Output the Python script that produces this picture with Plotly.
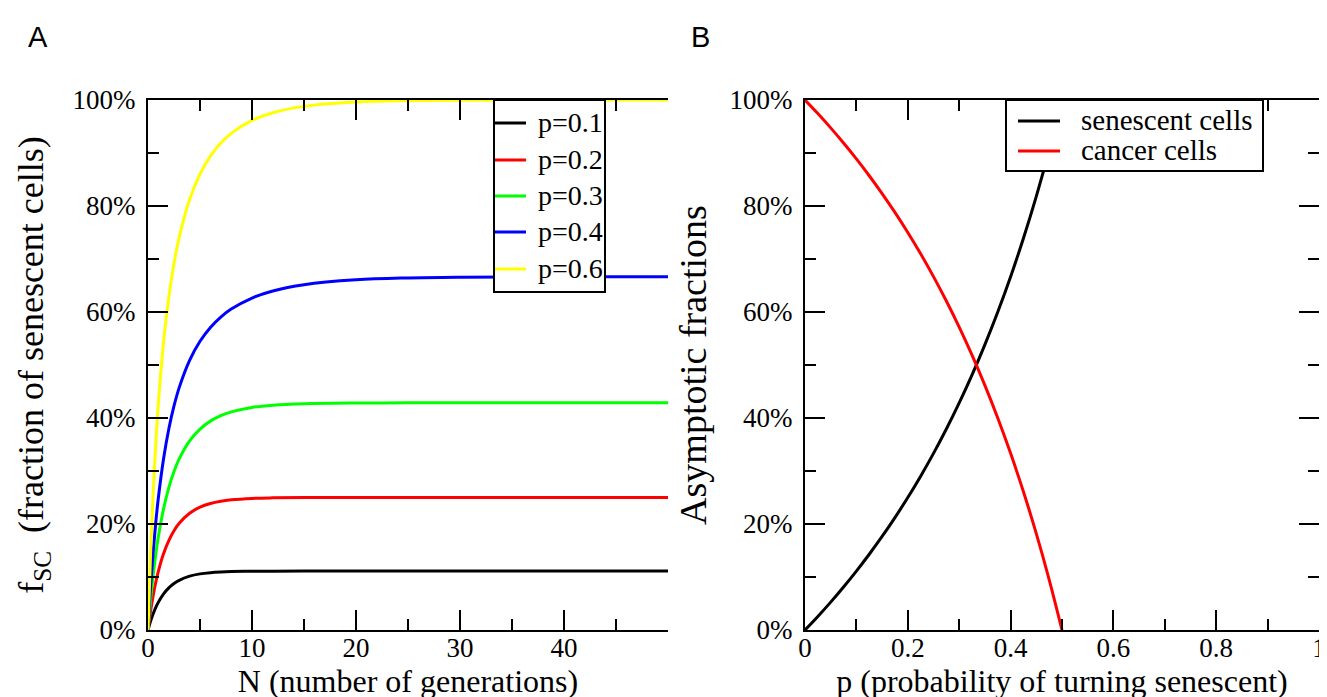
import plotly.graph_objects as go

# ---------------- Panel A data ----------------
N = [0, 0.25, 0.5, 0.75, 1, 1.5, 2, 2.5, 3, 4, 5, 6, 7, 8, 10, 12, 15, 20, 25, 30, 40, 50]
f_p01 = [0, 0.0168, 0.0308, 0.0427, 0.0526, 0.0682, 0.0796, 0.0878, 0.0938, 0.1016, 0.1059, 0.1082,
         0.1095, 0.1102, 0.1108, 0.1110, 0.1111, 0.1111, 0.1111, 0.1111, 0.1111, 0.1111]
f_p02 = [0, 0.0357, 0.0652, 0.0901, 0.1111, 0.1443, 0.1688, 0.1873, 0.2013, 0.2203, 0.2317, 0.2387,
         0.2430, 0.2456, 0.2483, 0.2493, 0.2498, 0.2500, 0.2500, 0.2500, 0.2500, 0.2500]
f_p03 = [0, 0.0571, 0.1040, 0.1433, 0.1765, 0.2291, 0.2687, 0.2990, 0.3228, 0.3568, 0.3791, 0.3941,
         0.4044, 0.4115, 0.4200, 0.4242, 0.4270, 0.4283, 0.4286, 0.4286, 0.4286, 0.4286]
f_p04 = [0, 0.0819, 0.1484, 0.2036, 0.2500, 0.3237, 0.3793, 0.4227, 0.4573, 0.5087, 0.5447, 0.5709,
         0.5905, 0.6055, 0.6264, 0.6397, 0.6516, 0.6608, 0.6643, 0.6657, 0.6665, 0.6667]
f_p06 = [0, 0.1469, 0.2616, 0.3533, 0.4286, 0.5439, 0.6279, 0.6914, 0.7409, 0.8122, 0.8602, 0.8941,
         0.9187, 0.9370, 0.9614, 0.9760, 0.9880, 0.9961, 0.9987, 0.9996, 1.0, 1.0]
labels_A = ["p=0.1", "p=0.2", "p=0.3", "p=0.4", "p=0.6"]
colors_A = ["#000000", "#ff0000", "#00ff00", "#0000ff", "#ffff00"]
values_A = [f_p01, f_p02, f_p03, f_p04, f_p06]

# ---------------- Panel B data ----------------
p_vals = [0, 0.025, 0.05, 0.075, 0.1, 0.125, 0.15, 0.175, 0.2, 0.225, 0.25, 0.275, 0.3, 0.325,
          0.35, 0.375, 0.4, 0.425, 0.45, 0.475, 0.5]
senescent = [0, 0.0256, 0.0526, 0.0811, 0.1111, 0.1429, 0.1765, 0.2121, 0.25, 0.2903, 0.3333, 0.3793,
             0.4286, 0.4815, 0.5385, 0.6, 0.6667, 0.7391, 0.8182, 0.9048, 1.0]
cancer = [1, 0.9744, 0.9474, 0.9189, 0.8889, 0.8571, 0.8235, 0.7879, 0.75, 0.7097, 0.6667, 0.6207,
          0.5714, 0.5185, 0.4615, 0.4, 0.3333, 0.2609, 0.1818, 0.0952, 0.0]
labels_B = ["senescent cells", "cancer cells"]
colors_B = ["#000000", "#ff0000"]
values_B = [senescent, cancer]

yticks = [0, 0.2, 0.4, 0.6, 0.8, 1.0]
yticktext = ["0%", "20%", "40%", "60%", "80%", "100%"]
xticksA = [0, 10, 20, 30, 40]
xticksB = [0, 0.2, 0.4, 0.6, 0.8, 1.0]
xticktextB = ["0", "0.2", "0.4", "0.6", "0.8", "1"]

W, H = 1327, 697
SERIF = "Liberation Serif"
SANS = "Liberation Sans"

fig = go.Figure()
for name, ys, col in zip(labels_A, values_A, colors_A):
    fig.add_trace(go.Scatter(x=N, y=ys, mode="lines", name=name, showlegend=False,
                             line=dict(color=col, width=3, shape="spline"), xaxis="x", yaxis="y"))
for name, ys, col in zip(labels_B, values_B, colors_B):
    fig.add_trace(go.Scatter(x=p_vals, y=ys, mode="lines", name=name, showlegend=False,
                             line=dict(color=col, width=3, shape="spline"), xaxis="x2", yaxis="y2"))

ydom = [1 - 622 / H, 1 - 92 / H]
tickfont = dict(family=SERIF, size=27, color="black")
xtitlefont = dict(family=SERIF, size=32, color="black")
minor_common = dict(ticks="inside", ticklen=11, tickwidth=2, tickcolor="black")
common = dict(showline=True, linecolor="black", linewidth=2, ticks="inside", ticklen=20, tickwidth=2,
              tickcolor="black", showgrid=False, zeroline=False, tickfont=tickfont, automargin=False)


def px(x):
    return x / W


def py(y):
    return 1 - y / H


# ---- legends drawn as boxes of line samples and texts ----
shapes = []
annotations = []


def add_legend(box, labels, colors, rows, line_x, text_x, fsize):
    x0, x1, y0, y1 = box
    shapes.append(dict(type="rect", xref="paper", yref="paper", x0=px(x0), x1=px(x1), y0=py(y1), y1=py(y0),
                       fillcolor="white", line=dict(color="black", width=2), layer="above"))
    for lab, col, yr in zip(labels, colors, rows):
        shapes.append(dict(type="line", xref="paper", yref="paper", x0=px(line_x[0]), x1=px(line_x[1]),
                           y0=py(yr), y1=py(yr), line=dict(color=col, width=3), layer="above"))
        annotations.append(dict(text=lab, x=px(text_x), y=py(yr - 1), xref="paper", yref="paper",
                                xanchor="left", yanchor="middle", showarrow=False,
                                font=dict(family=SERIF, size=fsize, color="black")))


add_legend((486, 597, 92, 284), labels_A, colors_A, [115, 152, 188, 224, 261], (487, 518), 528, 28)
add_legend((998, 1255, 92, 163), labels_B, colors_B, [113, 143], (1010, 1052), 1071, 29)

annotations += [
    dict(text="A", x=px(30), y=py(29), xref="paper", yref="paper", xanchor="center",
         yanchor="middle", showarrow=False, font=dict(family=SANS, size=29, color="black")),
    dict(text="B", x=px(692), y=py(29), xref="paper", yref="paper", xanchor="center",
         yanchor="middle", showarrow=False, font=dict(family=SANS, size=29, color="black")),
]

fig.update_layout(
    width=W, height=H, margin=dict(l=0, r=0, t=0, b=0),
    paper_bgcolor="white", plot_bgcolor="white", showlegend=False,
    xaxis=dict(domain=[px(140), px(660)], range=[0, 50], tickvals=xticksA,
               minor=dict(dtick=5, **minor_common), mirror="ticks", anchor="y", ticklabelstandoff=-7,
               title=dict(text="N (number of generations)", font=xtitlefont, standoff=0), **common),
    yaxis=dict(domain=ydom, range=[0, 1], tickvals=yticks, ticktext=yticktext,
               minor=dict(dtick=0.1, **minor_common), anchor="x", ticklabelstandoff=5,
               title=dict(text="f<sub>SC</sub>  (fraction of senescent cells)",
                          font=dict(family=SERIF, size=36, color="black"), standoff=18),
               **common),
    xaxis2=dict(domain=[px(797), px(1311)], range=[0, 1], tickvals=xticksB, ticktext=xticktextB,
                minor=dict(dtick=0.1, **minor_common), mirror="ticks", anchor="y2", ticklabelstandoff=-7,
                title=dict(text="p (probability of turning senescent)", font=xtitlefont, standoff=0),
                **common),
    yaxis2=dict(domain=ydom, range=[0, 1], tickvals=yticks, ticktext=yticktext,
                minor=dict(dtick=0.1, **minor_common), mirror="ticks", anchor="x2", ticklabelstandoff=5,
                title=dict(text="Asymptotic fractions", font=dict(family=SERIF, size=38, color="black"),
                           standoff=11),
                **common),
    shapes=shapes,
    annotations=annotations,
)

fig.write_html("out.html")
